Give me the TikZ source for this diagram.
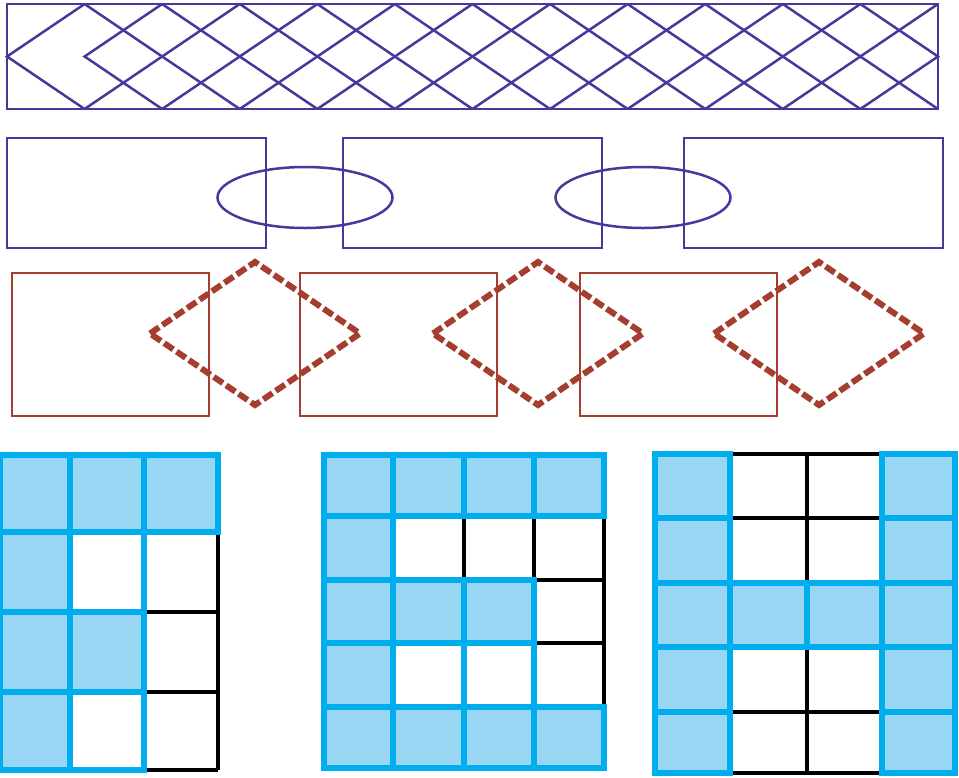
\documentclass[tikz,border=0pt]{standalone}
\usetikzlibrary{positioning}
\definecolor{lattice}{RGB}{68,58,155}
\definecolor{brick}{RGB}{165,62,46}
\definecolor{cyanline}{RGB}{0,174,239}
\definecolor{cyanfill}{RGB}{152,214,243}
\def\pitch{77.58}
\begin{document}
\begin{tikzpicture}[x=1pt, y=-1pt,
    net/.style={draw=lattice, line width=2.5pt},
    plate/.style={draw=brick, line width=2.3pt},
    dashdiamond/.style={draw=brick, line width=6pt, dash pattern=on 11pt off 4pt},
    gridblue/.style={draw=cyanline, line width=6.5pt, line cap=rect},
    gridblack/.style={draw=black, line width=3.6pt},
    cellfill/.style={fill=cyanfill}
  ]
  \useasboundingbox (0,0) rectangle (959,777);

  % lattice band
  \draw[net] (7,4) rectangle (938,109);
  \foreach \k in {1,...,10}{
    \draw[net] ({7+\k*\pitch},4) -- ({7+(\k+2)*\pitch},109);
    \draw[net] ({7+\k*\pitch},109) -- ({7+(\k+2)*\pitch},4);
  }
  \draw[net] ({7+\pitch},4) -- (7,56.5) -- ({7+\pitch},109);
  \draw[net] ({7+2*\pitch},4) -- ({7+\pitch},56.5) -- ({7+2*\pitch},109);
  \draw[net] ({7+11*\pitch},4) -- (938,56.5) -- ({7+11*\pitch},109);

  % plates and rings
  \foreach \x in {7,343,684}
    \draw[net] (\x,138) rectangle ++(259,110);
  \foreach \c in {305,643}
    \draw[net] (\c,197.5) ellipse [x radius=87.5, y radius=30.5];

  % plates and dashed diamonds
  \foreach \x in {12,300,580}
    \draw[plate] (\x,273) rectangle ++(197,143);
  \foreach \c in {255,538,819}
    \draw[dashdiamond] (\c-105,333.5) -- (\c,262) -- (\c+105,333.5) -- (\c,405) -- cycle;

  % grid 1
  \fill[cellfill] (0,455) rectangle (218,532) (0,532) rectangle (70,770)
    (70,612) rectangle (144,692);
  \draw[gridblack] (218,532) -- (218,770) (144,612) -- (218,612)
    (144,692) -- (218,692) (144,770) -- (218,770);
  \draw[gridblue] (0,455) -- (218,455) (0,532) -- (218,532)
    (0,612) -- (144,612) (0,692) -- (144,692) (0,770) -- (144,770)
    (0,455) -- (0,770) (70,455) -- (70,770) (144,455) -- (144,770)
    (218,455) -- (218,532);

  % grid 2
  \fill[cellfill] (324,455) rectangle (604,516) (324,516) rectangle (393,707)
    (393,580) rectangle (534,643) (324,707) rectangle (604,768);
  \draw[gridblack] (464,516) -- (464,580) (534,516) -- (534,580)
    (604,516) -- (604,707) (534,580) -- (604,580) (534,643) -- (604,643);
  \draw[gridblue] (324,455) -- (604,455) (324,516) -- (604,516)
    (324,707) -- (604,707) (324,768) -- (604,768)
    (324,580) -- (534,580) (324,643) -- (534,643)
    (324,455) -- (324,768) (393,455) -- (393,768)
    (464,455) -- (464,516) (464,580) -- (464,768)
    (534,455) -- (534,516) (534,580) -- (534,768)
    (604,455) -- (604,516) (604,707) -- (604,768);

  % grid 3
  \fill[cellfill] (655,454) rectangle (730,773) (882,454) rectangle (955,773)
    (730,583) rectangle (882,647);
  \draw[gridblack] (807,454) -- (807,583) (807,647) -- (807,773);
  \foreach \y in {454,518,712,773}
    \draw[gridblack] (730,\y) -- (882,\y);
  \foreach \x in {655,730,882,955}
    \draw[gridblue] (\x,454) -- (\x,773);
  \foreach \y in {454,518,712,773}
    \draw[gridblue] (655,\y) -- (730,\y) (882,\y) -- (955,\y);
  \draw[gridblue] (655,583) -- (955,583) (655,647) -- (955,647) (807,583) -- (807,647);
\end{tikzpicture}
\end{document}
